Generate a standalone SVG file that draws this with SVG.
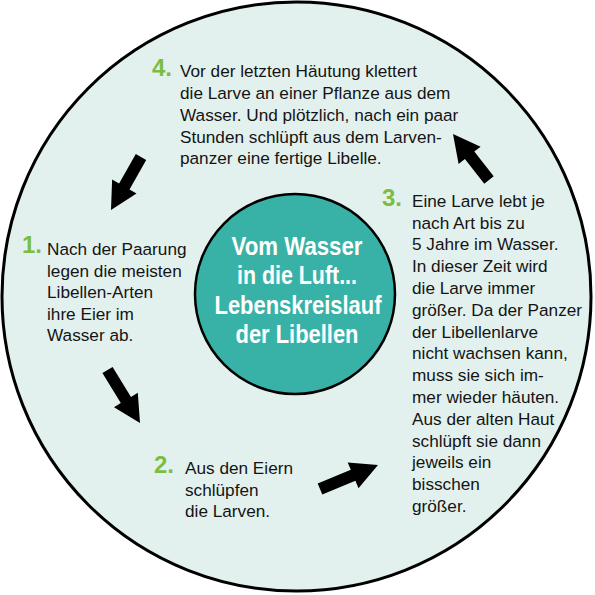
<svg xmlns="http://www.w3.org/2000/svg" width="595" height="595" viewBox="0 0 595 595">
<style>
.body{font-family:"Liberation Sans",Arial,sans-serif;font-size:17.2px;fill:#141414}
.num{font-family:"Liberation Sans",Arial,sans-serif;font-size:24px;font-weight:bold;fill:#7bbd43}
.title{font-family:"Liberation Sans",Arial,sans-serif;font-size:25px;font-weight:bold;fill:#ffffff;text-anchor:middle}
.arrow{fill:#000000}
</style>
<rect width="595" height="595" fill="#ffffff"/>
<g id="outer">
<circle cx="296.5" cy="296.5" r="294.5" fill="#e3f1ee" stroke="#000" stroke-width="3"/>
</g>
<g id="center">
<circle cx="295" cy="294" r="100" fill="#38b2a6" stroke="#000" stroke-width="2.5"/>
<text class="title" x="297" y="255" textLength="131" lengthAdjust="spacingAndGlyphs">Vom Wasser</text>
<text class="title" x="297" y="284" textLength="120" lengthAdjust="spacingAndGlyphs">in die Luft...</text>
<text class="title" x="298" y="314" textLength="167" lengthAdjust="spacingAndGlyphs">Lebenskreislauf</text>
<text class="title" x="297" y="343" textLength="123" lengthAdjust="spacingAndGlyphs">der Libellen</text>
</g>
<g id="step1">
<text class="num" x="22" y="253">1.</text>
<text class="body" x="47" y="255">Nach der Paarung</text>
<text class="body" x="47" y="277">legen die meisten</text>
<text class="body" x="47" y="298">Libellen-Arten</text>
<text class="body" x="47" y="320">ihre Eier im</text>
<text class="body" x="47" y="341">Wasser ab.</text>
</g>
<g id="step2">
<text class="num" x="154" y="473">2.</text>
<text class="body" x="185" y="474">Aus den Eiern</text>
<text class="body" x="185" y="496">schlüpfen</text>
<text class="body" x="185" y="517">die Larven.</text>
</g>
<g id="step3">
<text class="num" x="382" y="206">3.</text>
<text class="body" x="412" y="207">Eine Larve lebt je</text>
<text class="body" x="412" y="228.5">nach Art bis zu</text>
<text class="body" x="412" y="250">5 Jahre im Wasser.</text>
<text class="body" x="412" y="272">In dieser Zeit wird</text>
<text class="body" x="412" y="294">die Larve immer</text>
<text class="body" x="412" y="316">größer. Da der Panzer</text>
<text class="body" x="412" y="337.5">der Libellenlarve</text>
<text class="body" x="412" y="359">nicht wachsen kann,</text>
<text class="body" x="412" y="381">muss sie sich im-</text>
<text class="body" x="412" y="403">mer wieder häuten.</text>
<text class="body" x="412" y="425">Aus der alten Haut</text>
<text class="body" x="412" y="446.5">schlüpft sie dann</text>
<text class="body" x="412" y="468">jeweils ein</text>
<text class="body" x="412" y="490">bisschen</text>
<text class="body" x="412" y="512">größer.</text>
</g>
<g id="step4">
<text class="num" x="152" y="76">4.</text>
<text class="body" x="180" y="77">Vor der letzten Häutung klettert</text>
<text class="body" x="180" y="99">die Larve an einer Pflanze aus dem</text>
<text class="body" x="180" y="121">Wasser. Und plötzlich, nach ein paar</text>
<text class="body" x="180" y="143">Stunden schlüpft aus dem Larven-</text>
<text class="body" x="180" y="164">panzer eine fertige Libelle.</text>
</g>
<g id="connectors">
<polygon class="arrow" points="135.8,154.0 146.2,160.0 129.5,189.5 136.5,193.4 111,210 112.1,179.6 119.1,183.5"/>
<polygon class="arrow" points="112.6,366.9 102.4,373.1 120.8,403.1 114.0,407.3 140,423 137.8,392.7 131.0,396.9"/>
<polygon class="arrow" points="317.7,483.5 322.3,494.5 355.4,480.8 358.5,488.2 378,465 347.7,462.4 350.8,469.8"/>
<polygon class="arrow" points="484.3,183.7 493.7,176.3 474.3,151.6 480.6,146.7 453,134 458.6,163.9 464.9,159.0"/>
</g>
</svg>
